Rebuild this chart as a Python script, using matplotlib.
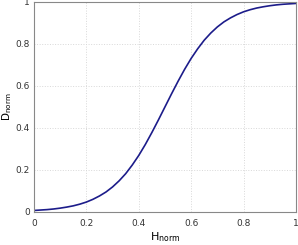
import matplotlib
matplotlib.use("Agg")
import matplotlib.pyplot as plt

# normalised curve
h_norm = [0.0, 0.025, 0.05, 0.075, 0.1, 0.125, 0.15, 0.175, 0.2, 0.225, 0.25,
          0.275, 0.3, 0.325, 0.35, 0.375, 0.4, 0.425, 0.45, 0.475, 0.5,
          0.525, 0.55, 0.575, 0.6, 0.625, 0.65, 0.675, 0.7, 0.725, 0.75,
          0.775, 0.8, 0.825, 0.85, 0.875, 0.9, 0.925, 0.95, 0.975, 1.0]
d_norm = [0.007, 0.009, 0.011, 0.014, 0.018, 0.023, 0.029, 0.037, 0.047, 0.060, 0.076,
          0.095, 0.119, 0.148, 0.182, 0.223, 0.269, 0.321, 0.378, 0.438, 0.5,
          0.562, 0.622, 0.679, 0.731, 0.777, 0.818, 0.852, 0.881, 0.905, 0.924,
          0.940, 0.953, 0.963, 0.971, 0.977, 0.982, 0.986, 0.989, 0.991, 0.993]
ticks = [0, 0.2, 0.4, 0.6, 0.8, 1]
tick_labels = ["0", "0.2", "0.4", "0.6", "0.8", "1"]

plt.rcParams["mathtext.default"] = "regular"
fig = plt.figure(figsize=(2.98, 2.45), dpi=100)
ax = fig.add_axes([0.114, 0.135, 0.879, 0.857])

ax.plot(h_norm, d_norm, color="#1c1c8a", lw=1.2)

ax.set_xlim(0, 1)
ax.set_ylim(0, 1)
ax.set_xticks(ticks)
ax.set_xticklabels(tick_labels)
ax.set_yticks(ticks)
ax.set_yticklabels(tick_labels)
ax.tick_params(axis="x", length=0, labelsize=6.5, colors="#333333", pad=5)
ax.tick_params(axis="y", length=0, labelsize=6.5, colors="#333333", pad=3)
ax.grid(True, color="#d8d8d8", ls=":", lw=0.7)
for s in ax.spines.values():
    s.set_color("#888888")
    s.set_linewidth(0.8)

ax.set_xlabel("H$_{norm}$", fontsize=8, labelpad=2)
ax.set_ylabel("D$_{norm}$", fontsize=7.5)
ax.yaxis.set_label_coords(-0.078, 0.5)

fig.savefig("out.png", dpi=100)
